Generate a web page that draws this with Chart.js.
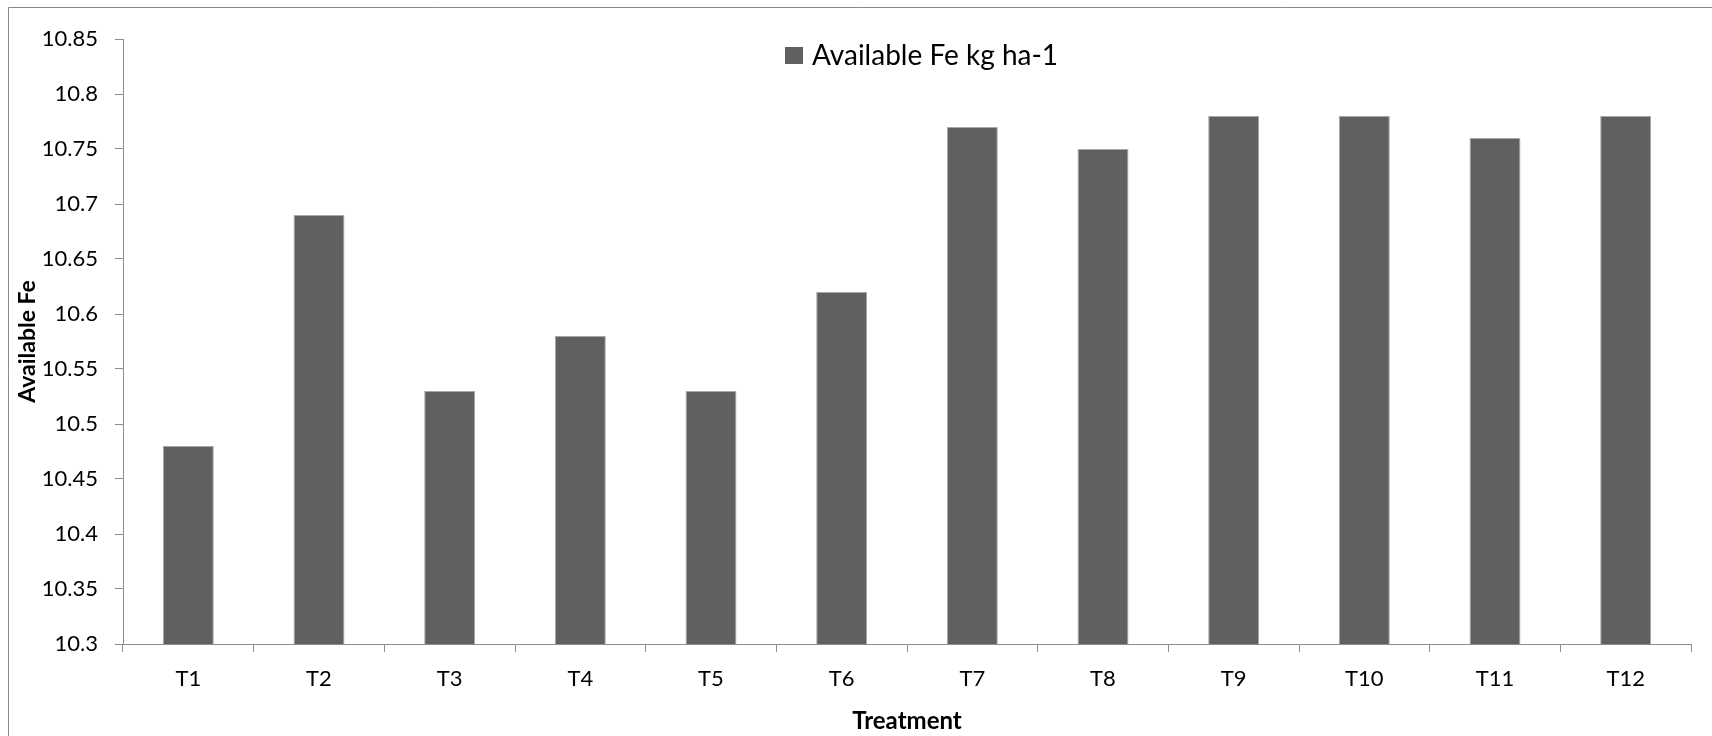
<!DOCTYPE html>
<html>
<head>
<meta charset="utf-8">
<title>Available Fe by treatment</title>
<script src="https://cdn.jsdelivr.net/npm/chart.js@4"></script>
<style>
  html, body { margin: 0; padding: 0; background: #ffffff; }
  #wrap { position: relative; width: 1712px; height: 736px; }
  canvas { display: block; }
</style>
</head>
<body>
<div id="wrap"><canvas id="chart" width="1712" height="736"></canvas></div>
<script>
// Treatments on the x axis
const treatments = ['T1', 'T2', 'T3', 'T4', 'T5', 'T6', 'T7', 'T8', 'T9', 'T10', 'T11', 'T12'];
// Available Fe (kg ha-1) per treatment
const availableFe = [10.48, 10.69, 10.53, 10.58, 10.53, 10.62, 10.77, 10.75, 10.78, 10.78, 10.76, 10.78];
// Y axis tick labels, bottom to top
const yTickLabels = ['10.3', '10.35', '10.4', '10.45', '10.5', '10.55', '10.6', '10.65', '10.7', '10.75', '10.8', '10.85'];
const seriesName = 'Available Fe kg ha-1';
const yTitle = 'Available Fe';
const xTitle = 'Treatment';

const FONT = 'Lato, "Open Sans", sans-serif';
const BAR_FILL = '#606060';
const AXIS_GREY = '#8c8c8c';

// Outer frame of the chart (left and top edges visible)
const framePlugin = {
  id: 'frame',
  beforeDraw(chart) {
    const ctx = chart.ctx;
    ctx.save();
    ctx.strokeStyle = '#8a8a8a';
    ctx.lineWidth = 1;
    ctx.beginPath();
    ctx.moveTo(8.5, chart.height + 5);
    ctx.lineTo(8.5, 7.5);
    ctx.lineTo(chart.width + 5, 7.5);
    ctx.stroke();
    ctx.restore();
  }
};

// Legend drawn inside the plot area, above the bars
const insideLegend = {
  id: 'insideLegend',
  afterDraw(chart) {
    const ds = chart.data.datasets[0];
    const ctx = chart.ctx;
    ctx.save();
    ctx.font = '28px ' + FONT;
    ctx.textBaseline = 'middle';
    ctx.textAlign = 'left';
    const boxX = 785, boxY = 47, boxW = 18, boxH = 17;
    ctx.fillStyle = ds.backgroundColor;
    ctx.fillRect(boxX, boxY, boxW, boxH);
    ctx.fillStyle = '#000000';
    ctx.fillText(ds.label, boxX + boxW + 9, boxY + boxH / 2);
    ctx.restore();
  }
};

new Chart(document.getElementById('chart'), {
  type: 'bar',
  data: {
    labels: treatments,
    datasets: [{
      label: seriesName,
      data: availableFe,
      backgroundColor: BAR_FILL,
      borderColor: '#a8a8a8',
      borderWidth: 1,
      barPercentage: 0.39,
      categoryPercentage: 1.0
    }]
  },
  options: {
    responsive: false,
    animation: false,
    devicePixelRatio: 1,
    layout: { padding: { left: 0, top: 39, right: 21, bottom: 0 } },
    plugins: {
      legend: { display: false },
      tooltip: { enabled: false }
    },
    scales: {
      x: {
        grid: {
          display: true,
          offset: true,
          drawOnChartArea: false,
          drawTicks: true,
          tickLength: 8,
          color: AXIS_GREY
        },
        border: { display: true, color: AXIS_GREY, width: 1 },
        ticks: {
          color: '#000000',
          font: { family: FONT, size: 22 },
          padding: 14,
          maxRotation: 0,
          autoSkip: false
        },
        title: {
          display: true,
          text: xTitle,
          color: '#000000',
          font: { family: FONT, size: 24, weight: 'bold' },
          padding: { top: 4, bottom: 0 }
        },
        afterFit(scale) { scale.height = 92; }
      },
      y: {
        min: 10.3,
        max: 10.85,
        grid: {
          display: true,
          drawOnChartArea: false,
          drawTicks: true,
          tickLength: 8,
          color: AXIS_GREY
        },
        border: { display: true, color: AXIS_GREY, width: 1 },
        ticks: {
          stepSize: 0.05,
          color: '#000000',
          font: { family: FONT, size: 22 },
          padding: 17,
          callback: (value, index) => yTickLabels[index]
        },
        title: {
          display: true,
          text: yTitle,
          color: '#000000',
          font: { family: FONT, size: 23, weight: 'bold' },
          padding: { top: 14, bottom: 0 }
        },
        afterFit(scale) { scale.width = 123; }
      }
    }
  },
  plugins: [framePlugin, insideLegend]
});
</script>
</body>
</html>
